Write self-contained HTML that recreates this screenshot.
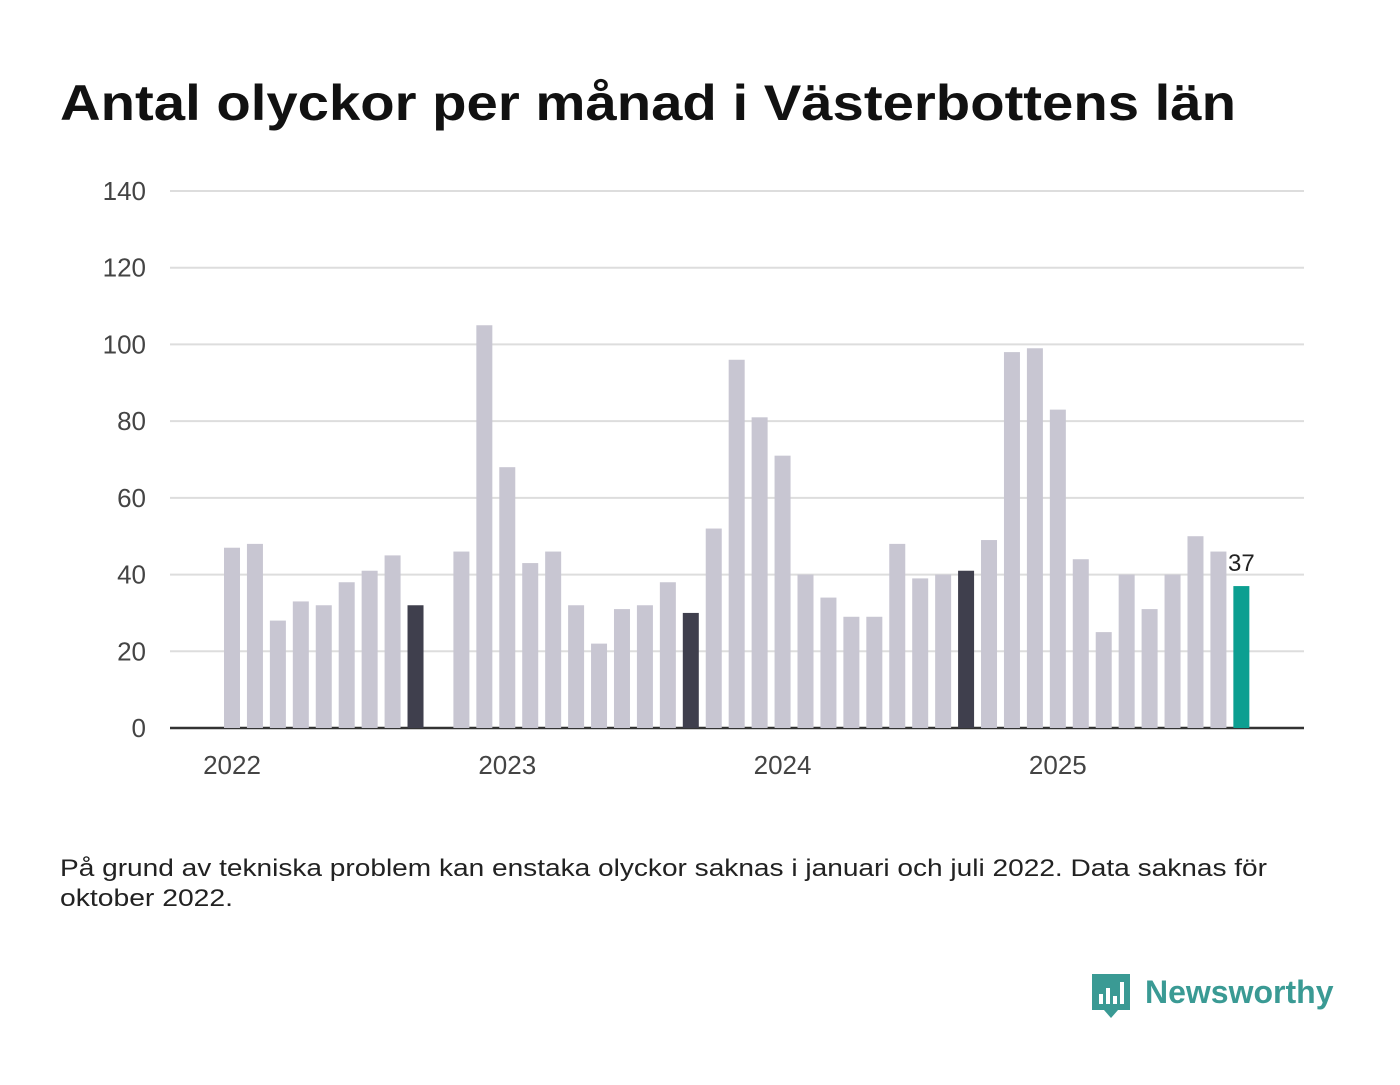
<!DOCTYPE html>
<html><head><meta charset="utf-8">
<style>
body{margin:0;background:#fff;width:1400px;height:1080px;overflow:hidden;font-family:"Liberation Sans","DejaVu Sans",sans-serif;}
</style></head>
<body>
<svg width="1400" height="1080">
<text x="60" y="120" font-size="50" font-weight="bold" fill="#111" textLength="1176" lengthAdjust="spacingAndGlyphs">Antal olyckor per månad i Västerbottens län</text>
<g id="grid"></g>
<g id="bars"></g>
<g id="xlabels"></g>
<text x="60" y="876" font-size="24" fill="#222" textLength="1207" lengthAdjust="spacingAndGlyphs">På grund av tekniska problem kan enstaka olyckor saknas i januari och juli 2022. Data saknas för</text>
<text x="60" y="906" font-size="24" fill="#222" textLength="173" lengthAdjust="spacingAndGlyphs">oktober 2022.</text>
<g>
<path d="M1092 974h38v36h-12l-7 8l-7-8h-12z" fill="#3a9a94"/>
<rect x="1099" y="994" width="4" height="10" fill="#fff"/><rect x="1106" y="988" width="4" height="16" fill="#fff"/><rect x="1113" y="996" width="4" height="8" fill="#fff"/><rect x="1120" y="982" width="4" height="22" fill="#fff"/>
<text x="1145" y="1003" font-size="32" font-weight="bold" fill="#3a9a94">Newsworthy</text>
</g>
</svg>
<script>
const ticks=[0,20,40,60,80,100,120,140];
const years=["2022","2023","2024","2025"];
const values=[47,48,28,33,32,38,41,45,32,null,46,105,
68,43,46,32,22,31,32,38,30,52,96,81,
71,40,34,29,29,48,39,40,41,49,98,99,
83,44,25,40,31,40,50,46,37];
const NS="http://www.w3.org/2000/svg";
const y=v=>728-v*(537/140);
const x=i=>232+i*22.94;
const grid=document.getElementById('grid');
ticks.forEach(t=>{
 const l=document.createElementNS(NS,'line');
 l.setAttribute('x1',170);l.setAttribute('x2',1304);l.setAttribute('y1',y(t));l.setAttribute('y2',y(t));
 l.setAttribute('stroke',t===0?'#333':'#ddd');l.setAttribute('stroke-width',t===0?2.5:2);
 
 
 grid.appendChild(l);
 const tx=document.createElementNS(NS,'text');
 tx.setAttribute('x',146);tx.setAttribute('y',y(t)+9);tx.setAttribute('text-anchor','end');
 tx.setAttribute('font-size',26);tx.setAttribute('fill','#444');tx.textContent=t;
 
 
 grid.appendChild(tx);
});
const bars=document.getElementById('bars');
values.forEach((v,i)=>{
 if(v===null)return;
 const r=document.createElementNS(NS,'rect');
 const last=i===values.length-1;
 const sep=(i%12)===8;
 r.setAttribute('x',x(i)-8);r.setAttribute('width',16);
 r.setAttribute('y',y(v));r.setAttribute('height',728-y(v));
 r.setAttribute('fill',last?'#0c9f91':sep?'#3f3f4d':'#c8c6d2');
 
 
 bars.appendChild(r);
 if(last){
  const t=document.createElementNS(NS,'text');
  t.setAttribute('x',x(i));t.setAttribute('y',y(v)-15);t.setAttribute('text-anchor','middle');
  t.setAttribute('font-size',24);t.setAttribute('fill','#222');t.textContent=v;
  
  
  bars.appendChild(t);
 }
});
const xl=document.getElementById('xlabels');
years.forEach((yr,k)=>{
 const t=document.createElementNS(NS,'text');
 t.setAttribute('x',x(k*12));t.setAttribute('y',774);t.setAttribute('text-anchor','middle');
 t.setAttribute('font-size',26);t.setAttribute('fill','#444');t.textContent=yr;
 
 
 xl.appendChild(t);
});
</script>
</body></html>
